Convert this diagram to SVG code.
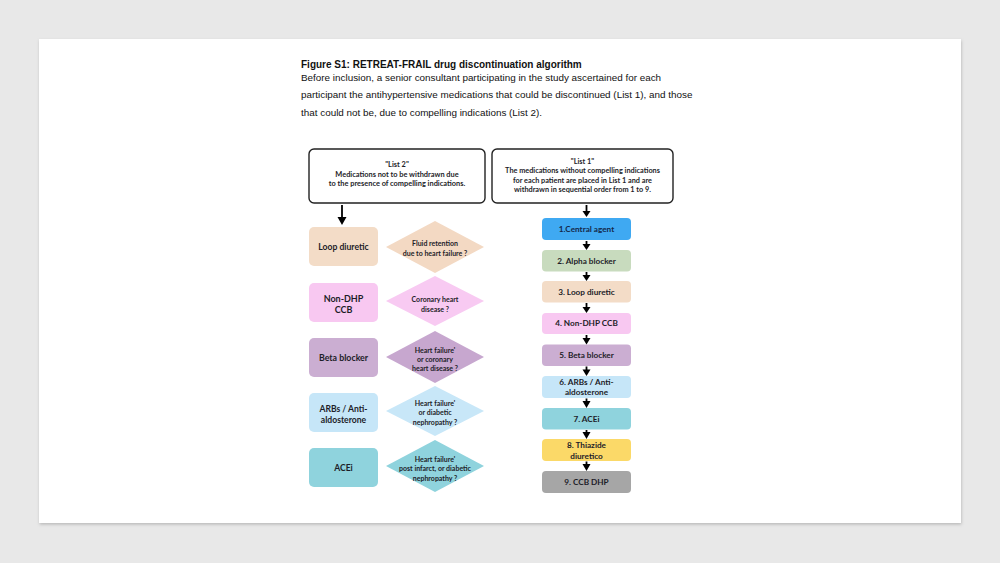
<svg xmlns="http://www.w3.org/2000/svg" width="1000" height="563" viewBox="0 0 1000 563">
<defs>
<style>
.hd{font-family:"Liberation Sans",Arial,sans-serif;fill:#111;}
.t{font-family:Lato,"Open Sans",sans-serif;font-weight:700;fill:#1d1d28;text-anchor:middle;}
.hb{fill:#fff;stroke:#222;stroke-width:1.4;}
.ar{stroke:#000;stroke-width:1.8;fill:none;}
.ah{fill:#000;}
</style>
<filter id="sh" x="-5%" y="-5%" width="110%" height="110%">
<feGaussianBlur stdDeviation="1.5"/>
</filter>
</defs>
<rect x="0" y="0" width="1000" height="563" fill="#e8e8e8"/>
<rect x="39.5" y="40.5" width="922" height="484" fill="#9a9a9a" filter="url(#sh)" opacity="0.6"/>
<rect x="39" y="39" width="922" height="484" fill="#ffffff"/>

<g id="heading">
<text class="hd" x="301" y="68" font-size="10" font-weight="700">Figure S1: RETREAT-FRAIL drug discontinuation algorithm</text>
<text class="hd" x="301" y="80.5" font-size="9.9">Before inclusion, a senior consultant participating in the study ascertained for each</text>
<text class="hd" x="301" y="98" font-size="9.9">participant the antihypertensive medications that could be discontinued (List 1), and those</text>
<text class="hd" x="301" y="115.5" font-size="9.9">that could not be, due to compelling indications (List 2).</text>
</g>

<g id="list2">
<rect class="hb" x="309" y="149" width="176" height="54" rx="5"/>
<text class="t" x="397" y="166.5" font-size="7.4">"List 2"</text>
<text class="t" x="397" y="176.5" font-size="7.4">Medications not to be withdrawn due</text>
<text class="t" x="397" y="186" font-size="7.4">to the presence of compelling indications.</text>
</g>
<g id="list1">
<rect class="hb" x="492" y="149" width="181" height="54" rx="5"/>
<text class="t" x="582.5" y="163.5" font-size="7.3">"List 1"</text>
<text class="t" x="582.5" y="173" font-size="7.3">The medications without compelling indications</text>
<text class="t" x="582.5" y="182.5" font-size="7.3">for each patient are placed in List 1 and are</text>
<text class="t" x="582.5" y="192" font-size="7.3">withdrawn in sequential order from 1 to 9.</text>
</g>

<g id="left-boxes">
<g id="l-loop"><rect x="309" y="227" width="69" height="39" rx="5" fill="#f3dcc7"/><text class="t" x="343.5" y="249.5" font-size="8.6">Loop diuretic</text></g>
<g id="l-nondhp"><rect x="309" y="283" width="69" height="39" rx="5" fill="#f8c8f1"/><text class="t" x="343.5" y="301.5" font-size="9">Non-DHP</text><text class="t" x="343.5" y="312.5" font-size="9">CCB</text></g>
<g id="l-beta"><rect x="309" y="338" width="69" height="39" rx="5" fill="#cbaed2"/><text class="t" x="343.5" y="360.5" font-size="8.8">Beta blocker</text></g>
<g id="l-arb"><rect x="309" y="393" width="69" height="39" rx="5" fill="#c6e6f8"/><text class="t" x="343.5" y="411.5" font-size="8.6">ARBs / Anti-</text><text class="t" x="343.5" y="423" font-size="8.6">aldosterone</text></g>
<g id="l-acei"><rect x="309" y="448" width="69" height="39" rx="5" fill="#8fd3dd"/><text class="t" x="343.5" y="470.5" font-size="8.6">ACEi</text></g>
</g>

<g id="diamonds">
<g id="d1"><polygon points="435,221 484,247 435,273 386,247" fill="#f3d9c3"/><text class="t" x="435" y="245.5" font-size="7">Fluid retention</text><text class="t" x="435" y="255.5" font-size="7">due to heart failure ?</text></g>
<g id="d2"><polygon points="435,276 484,301 435,326 386,301" fill="#f8caf2"/><text class="t" x="435" y="301.5" font-size="7">Coronary heart</text><text class="t" x="435" y="311.5" font-size="7">disease ?</text></g>
<g id="d3"><polygon points="435,331 484,357 435,383 386,357" fill="#c7a7cf"/><text class="t" x="435" y="352.5" font-size="7">Heart failure'</text><text class="t" x="435" y="361.5" font-size="7">or coronary</text><text class="t" x="435" y="370.5" font-size="7">heart disease ?</text></g>
<g id="d4"><polygon points="435,386 484,411 435,436 386,411" fill="#c8e7f8"/><text class="t" x="435" y="405.5" font-size="7">Heart failure'</text><text class="t" x="435" y="414.5" font-size="7">or diabetic</text><text class="t" x="435" y="424.5" font-size="7">nephropathy ?</text></g>
<g id="d5"><polygon points="435,440 484,466 435,492 386,466" fill="#8fd3dd"/><text class="t" x="435" y="461.5" font-size="7">Heart failure'</text><text class="t" x="435" y="470.5" font-size="7">post infarct, or diabetic</text><text class="t" x="435" y="480.5" font-size="7">nephropathy ?</text></g>
</g>

<g id="right-boxes">
<g id="r1"><rect x="542" y="218" width="89" height="22" rx="4" fill="#3fa9f2"/><text class="t" x="586.5" y="232" font-size="8.2" style="fill:#14284a">1.Central agent</text></g>
<g id="r2"><rect x="542" y="250" width="89" height="21.5" rx="4" fill="#c8dbbe"/><text class="t" x="586.5" y="263.7" font-size="8.2">2. Alpha blocker</text></g>
<g id="r3"><rect x="542" y="281" width="89" height="21.5" rx="4" fill="#f3dcc7"/><text class="t" x="586.5" y="294.7" font-size="8.2">3. Loop diuretic</text></g>
<g id="r4"><rect x="542" y="313" width="89" height="21" rx="4" fill="#f8c8f1"/><text class="t" x="586.5" y="326.3" font-size="8.2">4. Non-DHP CCB</text></g>
<g id="r5"><rect x="542" y="344.5" width="89" height="21.5" rx="4" fill="#cbaed2"/><text class="t" x="586.5" y="358.2" font-size="8.2">5. Beta blocker</text></g>
<g id="r6"><rect x="542" y="376" width="89" height="22" rx="4" fill="#c6e6f8"/><text class="t" x="586.5" y="385" font-size="8.2">6. ARBs / Anti-</text><text class="t" x="586.5" y="395" font-size="8.2">aldosterone</text></g>
<g id="r7"><rect x="542" y="408" width="89" height="21.5" rx="4" fill="#8fd3dd"/><text class="t" x="586.5" y="421.7" font-size="8.2">7. ACEi</text></g>
<g id="r8"><rect x="542" y="439" width="89" height="22" rx="4" fill="#fbd968"/><text class="t" x="586.5" y="448" font-size="8.2">8. Thiazide</text><text class="t" x="586.5" y="458.7" font-size="8.2">diuretico</text></g>
<g id="r9"><rect x="542" y="471" width="89" height="22" rx="4" fill="#a6a6a6"/><text class="t" x="586.5" y="484.8" font-size="8.2">9. CCB DHP</text></g>
</g>

<g id="connectors">
<line class="ar" x1="342" y1="205" x2="342" y2="218"/><polygon class="ah" points="337.5,217 346.5,217 342,225"/>
<line class="ar" x1="586.5" y1="205" x2="586.5" y2="212"/><polygon class="ah" points="582.5,211 590.5,211 586.5,217"/>
<line class="ar" x1="586.5" y1="241" x2="586.5" y2="245"/><polygon class="ah" points="582.5,244 590.5,244 586.5,250"/>
<line class="ar" x1="586.5" y1="272" x2="586.5" y2="276"/><polygon class="ah" points="582.5,275 590.5,275 586.5,281"/>
<line class="ar" x1="586.5" y1="303" x2="586.5" y2="308"/><polygon class="ah" points="582.5,307 590.5,307 586.5,313"/>
<line class="ar" x1="586.5" y1="335" x2="586.5" y2="339"/><polygon class="ah" points="582.5,338 590.5,338 586.5,344.5"/>
<line class="ar" x1="586.5" y1="366.5" x2="586.5" y2="370.5"/><polygon class="ah" points="582.5,369.5 590.5,369.5 586.5,376"/>
<line class="ar" x1="586.5" y1="398.5" x2="586.5" y2="402"/><polygon class="ah" points="582.5,401 590.5,401 586.5,408"/>
<line class="ar" x1="586.5" y1="430" x2="586.5" y2="433"/><polygon class="ah" points="582.5,432 590.5,432 586.5,439"/>
<line class="ar" x1="586.5" y1="461.5" x2="586.5" y2="465"/><polygon class="ah" points="582.5,464 590.5,464 586.5,471"/>
</g>
</svg>
